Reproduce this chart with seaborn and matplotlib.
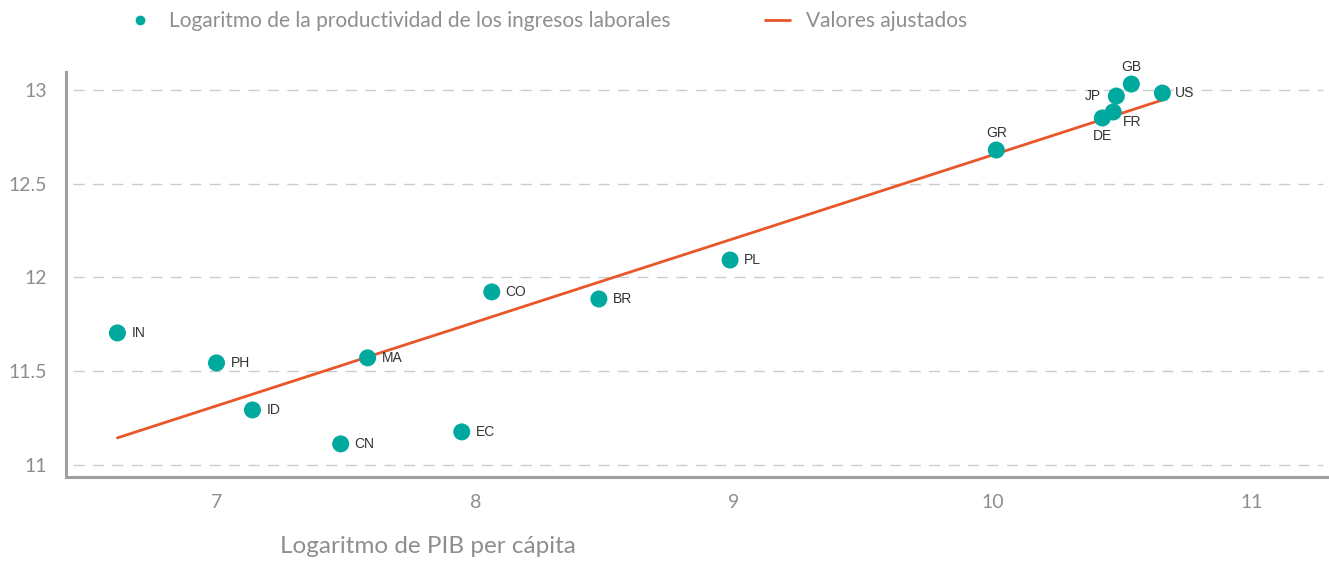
import numpy as np
import pandas as pd
import matplotlib
matplotlib.use("Agg")
import matplotlib.pyplot as plt
from matplotlib.lines import Line2D
import seaborn as sns

countries = ["IN", "PH", "ID", "CN", "MA", "EC", "CO", "BR", "PL", "GR", "DE", "FR", "JP", "GB", "US"]
log_gdp = [6.617, 7.00, 7.139, 7.480, 7.584, 7.948, 8.064, 8.478, 8.985, 10.014, 10.424, 10.466, 10.478, 10.536, 10.656]
log_prod = [11.704, 11.544, 11.293, 11.112, 11.571, 11.176, 11.923, 11.885, 12.093, 12.680, 12.851, 12.883, 12.968, 13.032, 12.984]
fitted = [11.144, 11.315, 11.377, 11.529, 11.576, 11.738, 11.790, 11.975, 12.201, 12.660, 12.843, 12.862, 12.867, 12.893, 12.947]

df = pd.DataFrame({"pais": countries, "x": log_gdp, "y": log_prod, "fit": fitted})

teal = "#00A99D"
orange = "#E8562A"
grey_txt = "#8e8e8e"

sns.set_style("white")
plt.rcParams["font.family"] = ["Lato", "DejaVu Sans"]

fig, ax = plt.subplots(figsize=(13.29, 5.63), dpi=100)
fig.subplots_adjust(left=0.05, right=1.0, top=0.872, bottom=0.153)

for yv in [11, 11.5, 12, 12.5, 13]:
    ax.axhline(yv, color="#cccccc", lw=1, ls=(0, (8, 6)), zorder=0, xmin=0.005, xmax=0.995)

sns.lineplot(data=df, x="x", y="fit", color=orange, lw=2, ax=ax, zorder=2)
sns.scatterplot(data=df, x="x", y="y", color=teal, s=150, edgecolor="none", ax=ax, zorder=3)

# label offsets (points)
offsets = {"GB": (0, 12, "center"), "GR": (0, 12, "center"), "JP": (-11, 0, "right"),
           "DE": (0, -13, "center"), "FR": (7, -7, "left"), "US": (9, 0, "left")}
for p, xv, yv in zip(countries, log_gdp, log_prod):
    dx, dy, ha = offsets.get(p, (10, 0, "left"))
    ax.annotate(p, (xv, yv), xytext=(dx, dy), textcoords="offset points",
                ha=ha, va="center", fontsize=10, color="#333333",
                family=["Liberation Sans", "DejaVu Sans"])

ax.set_xlim(6.42, 11.30)
ax.set_ylim(10.936, 13.096)
ax.set_xticks([7, 8, 9, 10, 11])
ax.set_yticks([11, 11.5, 12, 12.5, 13])
ax.set_yticklabels(["11", "11.5", "12", "12.5", "13"])
ax.tick_params(axis="both", length=0, labelsize=14, labelcolor=grey_txt, pad=12)
ax.tick_params(axis="y", pad=14)

for s in ["top", "right"]:
    ax.spines[s].set_visible(False)
for s in ["left", "bottom"]:
    ax.spines[s].set_color("#a0a0a0")
    ax.spines[s].set_linewidth(2.2)

ax.set_ylabel("")
ax.set_xlabel("Logaritmo de PIB per cápita", fontsize=17.5, color=grey_txt)
ax.xaxis.set_label_coords(0.286, -0.145)

handles = [Line2D([], [], marker="o", ls="none", color=teal, markersize=6),
           Line2D([], [], color=orange, lw=2)]
fig.legend(handles, ["Logaritmo de la productividad de los ingresos laborales", "Valores ajustados"],
           loc="center", bbox_to_anchor=(0.412, 0.962), ncol=2, frameon=False,
           fontsize=15, labelcolor=grey_txt, columnspacing=4.5, handlelength=1.2, handletextpad=0.8)

fig.savefig("out.png", dpi=100)
